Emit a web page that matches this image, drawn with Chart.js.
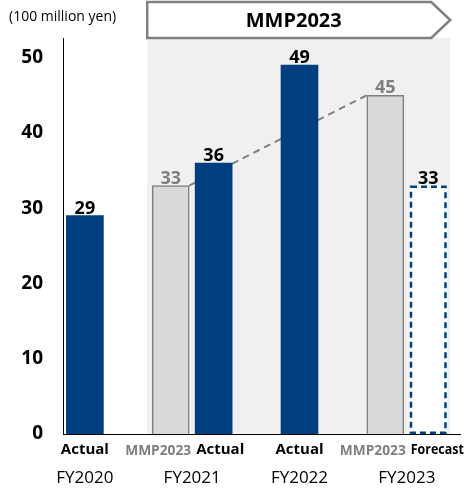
<!DOCTYPE html>
<html><head><meta charset="utf-8">
<script src="https://cdn.jsdelivr.net/npm/chart.js@4.4.1/dist/chart.umd.min.js"></script>
<style>html,body{margin:0;padding:0;background:#fff}</style>
</head><body>
<canvas id="c" width="473" height="489"></canvas>
<script>
// Fiscal years and the values reported for each (100 million yen)
const fiscalYears = ['FY2020', 'FY2021', 'FY2022', 'FY2023'];
const actualValues = [29, 36, 49, null];
const planValues = [null, 33, null, 45];
const forecastValues = [null, null, null, 33];
const yTicks = [0, 10, 20, 30, 40, 50];

const unitLabel = '(100 million yen)';
const planName = 'MMP2023';
const actualName = 'Actual';
const forecastName = 'Forecast';

const FONT = '"Open Sans", "Noto Sans", sans-serif';
const NAVY = '#003f7f';
const GREY_TEXT = '#7f7f7f';

// Each fiscal year occupies 2.5 slots; a year with a plan bar shows it to the left.
function slotX(i, kind) {
  const c = 2.5 * i;
  const paired = planValues[i] != null;
  if (!paired) return c;
  return kind === 'plan' ? c - 0.5 : c + 0.5;
}
function toPoints(values, kind) {
  const pts = [];
  values.forEach((v, i) => { if (v != null) pts.push({ x: slotX(i, kind), y: v, year: i }); });
  return pts;
}

const decor = {
  id: 'decor',
  beforeDraw(chart) {
    const ctx = chart.ctx, area = chart.chartArea;
    const plan = chart.getDatasetMeta(1).data;
    const fc = chart.getDatasetMeta(2).data;
    const left = plan[0].x - plan[0].width / 2 - 5;
    const right = fc[fc.length - 1].x + fc[fc.length - 1].width / 2 + 3.5;
    ctx.save();
    // Mid-term plan period shading
    ctx.fillStyle = '#f0f0f0';
    ctx.fillRect(left, area.top, right - left, area.bottom - area.top - 0.5);
    // Arrow-shaped header over the plan period
    const top = 2, bot = area.top, mid = (top + bot) / 2;
    ctx.beginPath();
    ctx.moveTo(left, top);
    ctx.lineTo(right - 19, top);
    ctx.lineTo(right, mid);
    ctx.lineTo(right - 19, bot);
    ctx.lineTo(left, bot);
    ctx.closePath();
    ctx.fillStyle = '#fff';
    ctx.fill();
    ctx.lineWidth = 2.5;
    ctx.strokeStyle = '#808080';
    ctx.stroke();
    ctx.fillStyle = '#000';
    ctx.font = 'bold 20px ' + FONT;
    ctx.textAlign = 'center';
    ctx.textBaseline = 'middle';
    ctx.fillText(planName, (left + right - 10) / 2, mid + 1);
    // Unit
    ctx.font = '14px ' + FONT;
    ctx.textAlign = 'left';
    ctx.fillText(unitLabel, 9, 17);
    ctx.restore();
  },
  beforeDatasetsDraw(chart) {
    const ctx = chart.ctx;
    const plan = chart.getDatasetMeta(1).data;
    const a = plan[0], b = plan[plan.length - 1];
    ctx.save();
    ctx.strokeStyle = '#808080';
    ctx.lineWidth = 2;
    ctx.setLineDash([7, 5]);
    ctx.beginPath();
    ctx.moveTo(a.x + a.width / 2, a.y);
    ctx.lineTo(b.x - b.width / 2, b.y);
    ctx.stroke();
    ctx.restore();
  },
  afterDatasetsDraw(chart) {
    const ctx = chart.ctx, area = chart.chartArea;
    ctx.save();
    // Dashed outline for the forecast bar
    chart.getDatasetMeta(2).data.forEach(el => {
      const w = el.width;
      ctx.strokeStyle = NAVY;
      ctx.lineWidth = 2.5;
      ctx.setLineDash([6, 4]);
      ctx.strokeRect(el.x - w / 2 + 1.25, el.y + 1.25, w - 2.5, el.base - el.y - 2.5);
    });
    ctx.setLineDash([]);
    // Value labels
    const colors = ['#000', GREY_TEXT, '#000'];
    ctx.font = 'bold 18px ' + FONT;
    ctx.textAlign = 'center';
    ctx.textBaseline = 'bottom';
    chart.data.datasets.forEach((ds, di) => {
      chart.getDatasetMeta(di).data.forEach((el, k) => {
        ctx.fillStyle = colors[di];
        ctx.fillText(String(ds.data[k].y), el.x, el.y + 2);
      });
    });
    // Bar kind labels under the axis
    const xs = chart.scales.x;
    const ly = area.bottom + 16;
    ctx.textBaseline = 'middle';
    fiscalYears.forEach((fy, i) => {
      const other = actualValues[i] != null ? actualName : forecastName;
      if (planValues[i] != null) {
        const midX = xs.getPixelForValue(2.5 * i);
        ctx.font = 'bold 14px ' + FONT;
        ctx.fillStyle = GREY_TEXT;
        ctx.textAlign = 'right';
        ctx.fillText(planName, midX - 1, ly + 1, 66);
        ctx.font = 'bold 15px ' + FONT;
        ctx.fillStyle = '#000';
        ctx.textAlign = 'left';
        ctx.fillText(other, midX + 4, ly, 53);
      } else {
        ctx.font = 'bold 15px ' + FONT;
        ctx.fillStyle = '#000';
        ctx.textAlign = 'center';
        ctx.fillText(other, xs.getPixelForValue(slotX(i, 'actual')), ly);
      }
    });
    ctx.restore();
  }
};

new Chart(document.getElementById('c'), {
  type: 'bar',
  data: {
    datasets: [
      { label: actualName, data: toPoints(actualValues, 'actual'), backgroundColor: NAVY, borderWidth: 0, grouped: false, barThickness: 37 },
      { label: planName, data: toPoints(planValues, 'plan'), backgroundColor: '#d9d9d9', borderColor: '#7f7f7f', borderWidth: 1.5, grouped: false, barThickness: 37 },
      { label: forecastName, data: toPoints(forecastValues, 'forecast'), backgroundColor: '#ffffff', borderWidth: 0, grouped: false, barThickness: 37 }
    ]
  },
  options: {
    responsive: false,
    animation: false,
    devicePixelRatio: 1,
    layout: { padding: { top: 38, right: 13, left: 0, bottom: 0 } },
    plugins: { legend: { display: false }, tooltip: { enabled: false }, title: { display: false } },
    scales: {
      x: {
        type: 'linear',
        offset: false,
        min: -0.51,
        max: 8.74,
        grid: { display: false, drawTicks: false, offset: false },
        border: { display: true, color: '#000', width: 1 },
        afterBuildTicks: s => { s.ticks = fiscalYears.map((_, i) => ({ value: 2.5 * i })); },
        afterFit: s => { s.height = 55; },
        ticks: {
          autoSkip: false, maxRotation: 0, padding: 34,
          color: '#000', font: { family: FONT, size: 17 },
          callback: (v, idx) => fiscalYears[idx]
        }
      },
      y: {
        min: 0,
        max: 52.6,
        grid: { display: false, drawTicks: false },
        border: { display: true, color: '#000', width: 1 },
        afterBuildTicks: s => { s.ticks = yTicks.map(v => ({ value: v })); },
        afterFit: s => { s.width = 63; },
        ticks: { padding: 20, color: '#000', font: { family: FONT, size: 19, weight: 'bold' } }
      }
    }
  },
  plugins: [decor]
});
</script>
</body></html>
